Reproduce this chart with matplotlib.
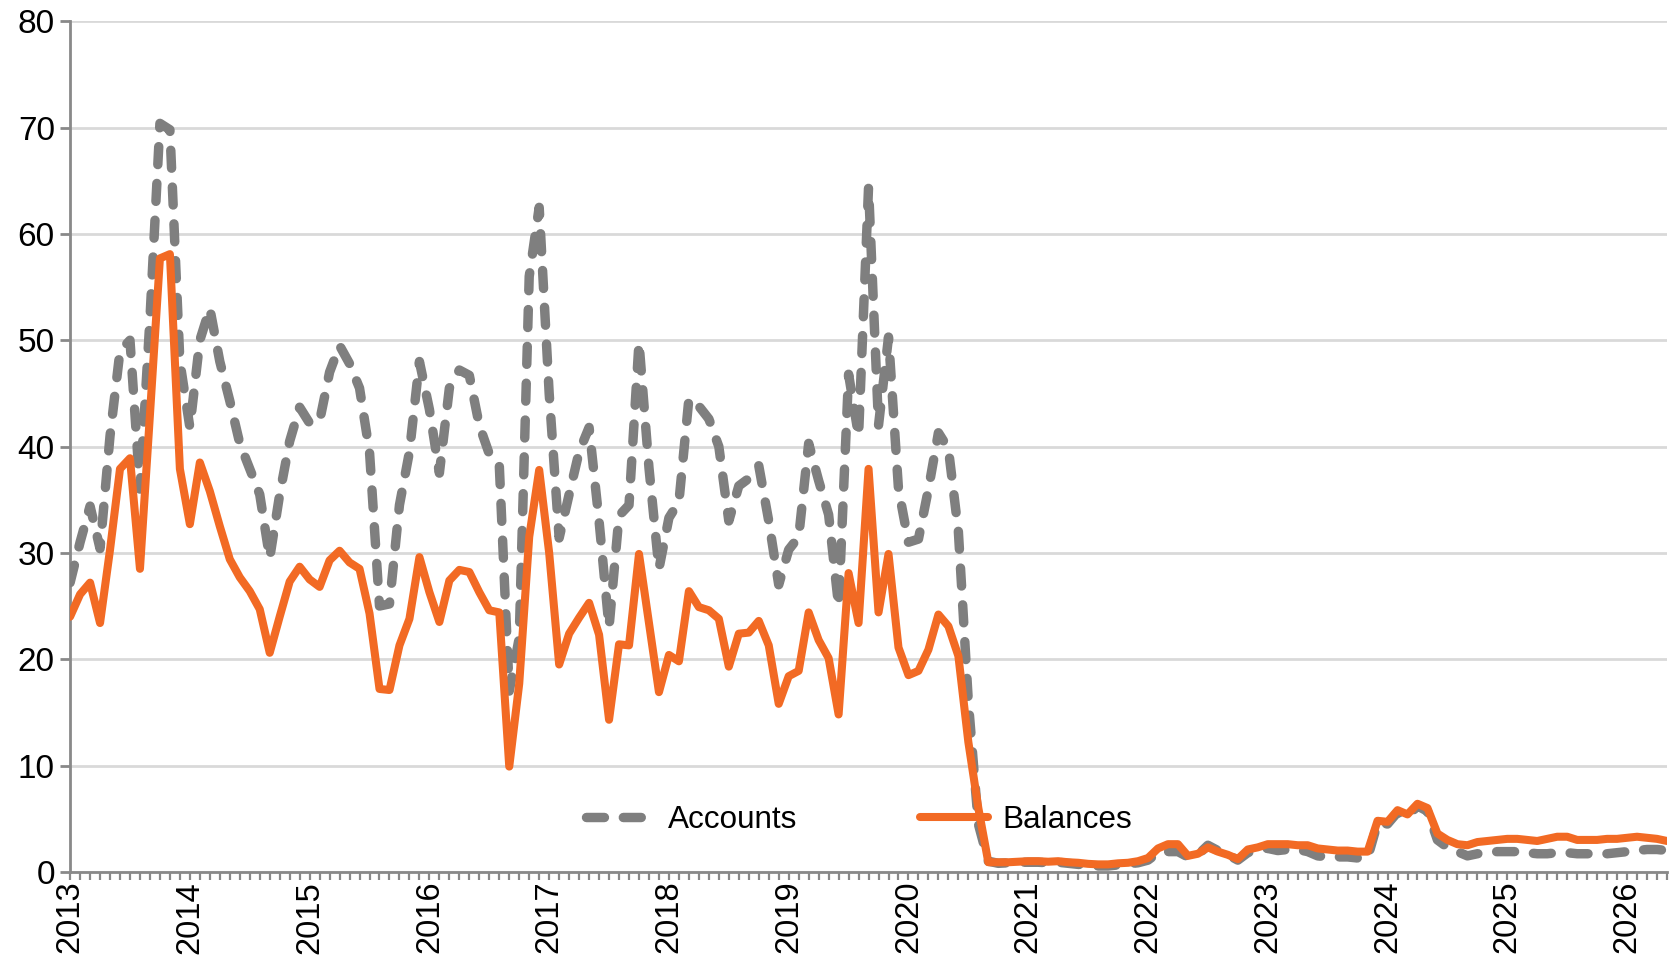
import matplotlib
matplotlib.use("Agg")
import matplotlib.pyplot as plt
import numpy as np
from matplotlib.ticker import FixedLocator, MultipleLocator

plt.rcParams['font.family'] = ['Liberation Sans', 'DejaVu Sans']

# Monthly series, January 2013 onwards
accounts = [
    27.2, 31.0, 34.4, 30.4, 41.0, 49.0, 50.0, 36.0, 52.0, 70.4, 69.8, 48.0,   # 2013
    41.8, 50.0, 53.0, 48.0, 44.3, 40.3, 37.9, 35.5, 29.5, 35.5, 40.5, 43.7,   # 2014
    42.2, 42.4, 47.0, 49.5, 47.8, 45.5, 39.5, 25.0, 25.2, 34.5, 39.5, 48.0,   # 2015
    43.5, 37.5, 45.5, 47.2, 46.7, 42.0, 39.3, 38.3, 17.0, 22.0, 56.0, 62.5,   # 2016
    45.0, 31.4, 35.5, 39.5, 41.8, 33.0, 23.0, 33.5, 34.5, 49.8, 38.0, 28.5,   # 2017
    33.3, 34.8, 44.5, 43.8, 42.6, 40.0, 33.0, 36.3, 37.0, 38.2, 33.0, 27.0,   # 2018
    30.3, 31.5, 40.3, 36.8, 33.6, 25.0, 46.8, 41.0, 64.4, 42.0, 50.3, 36.0,   # 2019
    31.0, 31.3, 36.0, 41.3, 39.8, 32.0, 16.0, 4.5, 1.0, 0.8, 0.85, 0.9,       # 2020
    0.9, 0.9, 0.85, 0.9, 0.8, 0.7, 0.6, 0.55, 0.55, 0.65, 0.75, 0.85,         # 2021
    1.1, 1.8, 1.9, 1.9, 1.4, 1.6, 2.5, 2.0, 1.6, 1.1, 1.8, 2.1,               # 2022
    2.2, 2.0, 2.1, 2.1, 1.9, 1.5, 1.4, 1.4, 1.4, 1.3, 1.3, 4.6,               # 2023
    4.5, 5.6, 5.2, 6.2, 5.7, 3.0, 2.3, 1.9, 1.5, 1.7, 1.8, 1.9,               # 2024
    1.9, 1.9, 1.8, 1.7, 1.7, 1.8, 1.8, 1.7, 1.7, 1.7, 1.7, 1.8,               # 2025
    1.9, 2.0, 2.1, 2.1, 2.0,                                                  # 2026
]

balances = [
    24.0, 26.1, 27.2, 23.4, 30.3, 37.9, 38.9, 28.5, 43.0, 57.7, 58.1, 37.9,   # 2013
    32.7, 38.5, 35.8, 32.5, 29.4, 27.7, 26.4, 24.7, 20.6, 24.0, 27.3, 28.7,   # 2014
    27.5, 26.8, 29.3, 30.2, 29.1, 28.5, 24.3, 17.2, 17.1, 21.3, 23.8, 29.6,   # 2015
    26.3, 23.5, 27.4, 28.4, 28.2, 26.3, 24.6, 24.4, 9.9, 17.7, 31.5, 37.8,    # 2016
    30.0, 19.5, 22.4, 23.9, 25.3, 22.3, 14.3, 21.4, 21.3, 29.9, 23.4, 16.9,   # 2017
    20.4, 19.8, 26.4, 24.9, 24.6, 23.8, 19.3, 22.4, 22.5, 23.6, 21.3, 15.8,   # 2018
    18.4, 18.9, 24.4, 21.8, 20.1, 14.8, 28.1, 23.4, 37.9, 24.4, 29.9, 21.1,   # 2019
    18.5, 18.9, 20.9, 24.2, 23.1, 20.3, 12.2, 6.0, 0.9, 0.9, 0.9, 0.95,       # 2020
    1.0, 1.0, 0.95, 1.0, 0.9, 0.85, 0.75, 0.7, 0.7, 0.8, 0.85, 1.0,           # 2021
    1.3, 2.2, 2.6, 2.6, 1.5, 1.7, 2.3, 1.9, 1.6, 1.2, 2.1, 2.3,               # 2022
    2.6, 2.6, 2.6, 2.5, 2.5, 2.2, 2.1, 2.0, 2.0, 1.9, 1.9, 4.8,               # 2023
    4.7, 5.8, 5.4, 6.4, 6.0, 3.6, 3.0, 2.6, 2.5, 2.8, 2.9, 3.0,               # 2024
    3.1, 3.1, 3.0, 2.9, 3.1, 3.3, 3.3, 3.0, 3.0, 3.0, 3.1, 3.1,               # 2025
    3.2, 3.3, 3.2, 3.1, 2.9,                                                  # 2026
]

years = [str(y) for y in range(2013, 2027)]

GREY = '#7F7F7F'
ORANGE = '#F26A24'
AXIS = '#898989'

fig = plt.figure(figsize=(16.69, 9.55), dpi=100)
ax = fig.add_axes([0.042, 0.0871, 0.9568, 0.8906])

x = np.arange(len(balances))
ax.plot(x, accounts, color=GREY, lw=6.8, dashes=(1.9, 2.0),
        dash_capstyle='round', dash_joinstyle='round',
        label='Accounts', zorder=3)
ax.plot(x, balances, color=ORANGE, lw=5.8, solid_joinstyle='round',
        solid_capstyle='round', label='Balances', zorder=4)

ax.set_xlim(0, len(balances) - 1)
ax.set_ylim(0, 80)

ax.yaxis.set_major_locator(MultipleLocator(10))
ax.grid(axis='y', color='#D9D9D9', lw=2)
ax.set_axisbelow(True)

ax.xaxis.set_major_locator(FixedLocator(np.arange(0, len(balances), 12)[:len(years)]))
ax.set_xticklabels(years, rotation=90)
ax.xaxis.set_minor_locator(MultipleLocator(1))

for side in ('top', 'right'):
    ax.spines[side].set_visible(False)
for side in ('left', 'bottom'):
    ax.spines[side].set_color(AXIS)
    ax.spines[side].set_linewidth(2)

ax.tick_params(axis='y', length=7, width=2, color=AXIS, labelsize=24, pad=4)
ax.tick_params(axis='x', which='both', length=5.5, width=1.6, color=AXIS,
               labelsize=23.5, pad=1)

ax.legend(loc='center', bbox_to_anchor=(0.494, 0.061), ncol=2, frameon=False,
          fontsize=22.7, handlelength=2.15, handletextpad=0.45, columnspacing=3.9)

fig.savefig('out.png', dpi=100)
